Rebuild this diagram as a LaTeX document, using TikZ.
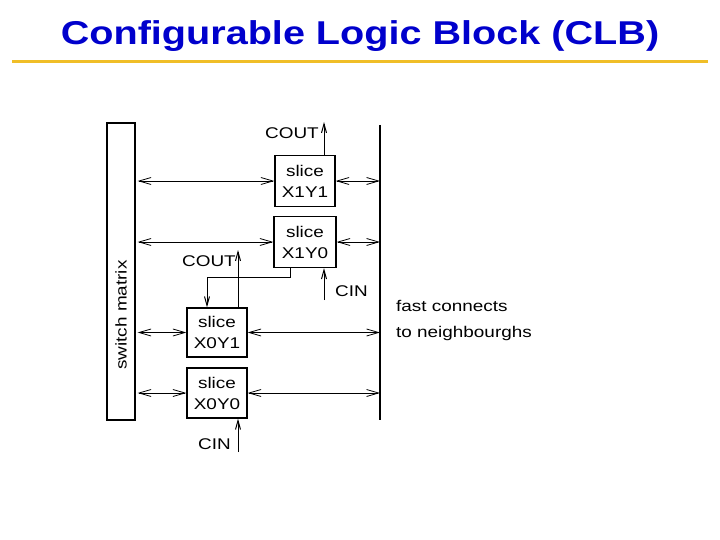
\documentclass[tikz,border=0pt]{standalone}
\usepackage{fontspec}
\setmainfont[FakeStretch=1.22]{Liberation Sans}
\newfontfamily\titlefont[FakeStretch=1.2]{Liberation Sans Bold}
\usetikzlibrary{arrows.meta,positioning}
\definecolor{titleblue}{RGB}{0,0,204}
\definecolor{rulegold}{RGB}{240,190,40}

\begin{document}
\begin{tikzpicture}[
  x=1pt,y=-1pt,
  slc/.style={rectangle,draw,line width=1.3pt,minimum width=60pt,minimum height=51pt,align=center,inner sep=0pt,font=\fontsize{15.5}{21}\selectfont},
  lbl/.style={inner sep=0pt,font=\fontsize{15.5}{19}\selectfont},
  bus/.style={{Straight Barb[length=12pt,width=7pt]}-{Straight Barb[length=12pt,width=7pt]},line width=0.8pt},
  arr/.style={-{Straight Barb[length=9pt,width=5pt]},line width=1pt}
]
\useasboundingbox (0,0) rectangle (720,540);
% title
\node[font=\titlefont\fontsize{33}{36}\selectfont,text=titleblue] (title) at (360,36) {Configurable Logic Block (CLB)};
\coordinate (rl) at (12,62);
\coordinate (rr) at (708,62);
\draw[rulegold,line width=3pt] (rl)--(rr);
% switch matrix and right bus
\node[draw,line width=1.3pt,minimum width=28pt,minimum height=297pt,inner sep=0pt] (sw) at (121,271.5) {};
\node[lbl,rotate=90] (swlbl) at (121,315) {switch matrix};
\coordinate (rt) at (380,125);
\coordinate (rb) at (380,420);
\draw[line width=1.8pt] (rt)--(rb);
% slices
\node[slc] (x1y1) at (305,181) {slice\\X1Y1};
\node[slc,minimum width=62pt] (x1y0) at (305,242) {slice\\X1Y0};
\node[slc,minimum height=49pt] (x0y1) at (217,332.5) {slice\\X0Y1};
\node[slc,minimum height=50pt] (x0y0) at (217,393) {slice\\X0Y0};
% links to switch matrix and neighbours
\foreach \s in {x1y1,x1y0,x0y1,x0y0}{
  \draw[bus,shorten <=2pt] (sw.east |- \s.west)--(\s.west);
  \draw[bus] (\s.east)--(rt |- \s.east);
}
% carry chain
\coordinate (couta) at (324,122);
\draw[arr] (couta |- x1y1.north)--(couta);
\node[lbl,anchor=east] (coutal) at (319,133) {COUT};
\coordinate (coutb) at (238,250);
\draw[arr] (coutb |- x0y1.north)--(coutb);
\node[lbl,anchor=east] (coutbl) at (236,261) {COUT};
\coordinate (fb) at (290,277);
\coordinate (fbl) at (207,277);
\draw[arr] (x1y0.south -| fb)--(fb)--(fbl)--(fbl |- x0y1.north);
\coordinate (cina) at (324,300);
\draw[arr] (cina)--(cina |- x1y0.south);
\node[lbl,anchor=west] (cinal) at (335,291) {CIN};
\coordinate (cinb) at (238,452);
\draw[arr] (cinb)--(cinb |- x0y0.south);
\node[lbl,anchor=east] (cinbl) at (231,444) {CIN};
% note
\node[lbl,anchor=west,align=left,font=\fontsize{15.5}{26}\selectfont] (note) at (396,320) {fast connects\\to neighbourghs};
\end{tikzpicture}
\end{document}
